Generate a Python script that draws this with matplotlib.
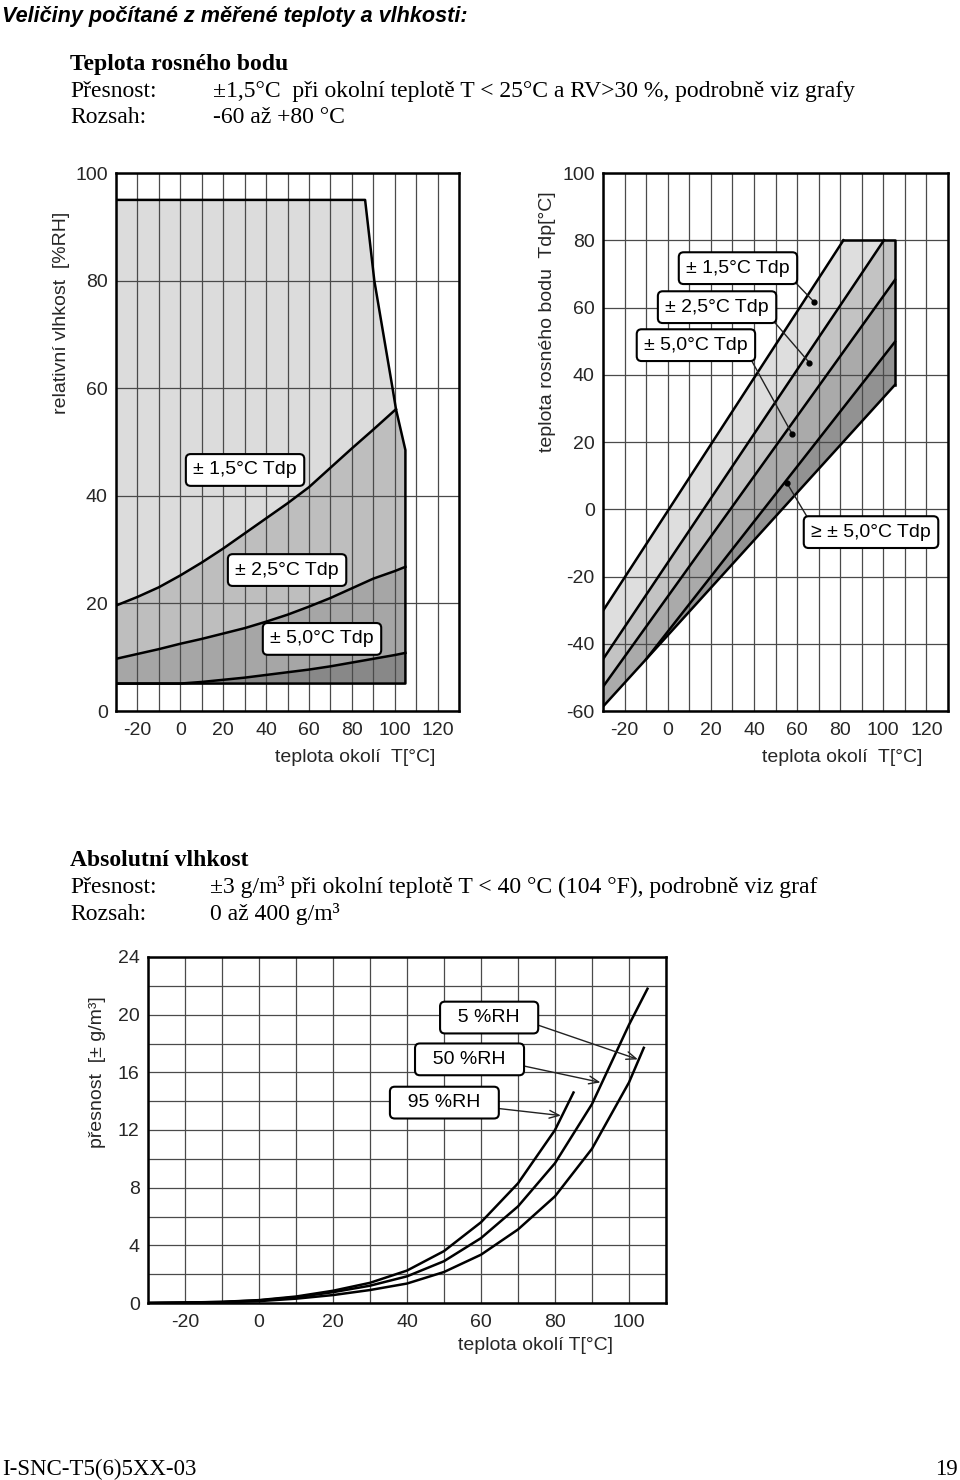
import numpy as np
import matplotlib
matplotlib.use("Agg")
import matplotlib.pyplot as plt

plt.rcParams['font.family'] = ['Liberation Sans', 'DejaVu Sans']

# --- graf 1: rel. vlhkost vs teplota okoli (oblasti presnosti Tdp)
rh_env_x = [-30, 86.2, 90.5, 99, 100.6, 105, 105]
rh_env_y = [95, 95, 80, 60, 56.1, 48.5, 5.1]
rh_floor = 5.1
rh15_x = [-30, -20, -10, 0, 10, 20, 30, 40, 50, 60, 70, 80, 90, 100.6]
rh15_y = [19.6, 21.2, 23.0, 25.2, 27.6, 30.2, 33.0, 35.8, 38.6, 41.6, 45.2, 48.8, 52.3, 56.1]
rh_x = [-30, -20, -10, 0, 10, 20, 30, 40, 50, 60, 70, 80, 90, 100, 105]
rh25_y = [9.7, 10.6, 11.5, 12.5, 13.4, 14.4, 15.4, 16.6, 17.9, 19.4, 21.0, 22.8, 24.6, 26.0, 26.8]
rh50_y = [5.1, 5.1, 5.1, 5.1, 5.4, 5.8, 6.2, 6.7, 7.2, 7.7, 8.3, 9.0, 9.7, 10.4, 10.8]

# --- graf 2: teplota rosneho bodu vs teplota okoli
dp_top = 80
dp_right = 105.4
dp_l1_x = [-30, 81.5]
dp_l1_y = [-30.2, 80]
dp_l2_x = [-30, 100.3]
dp_l2_y = [-44.6, 80]
dp_l3_x = [-30, 105.4]
dp_l3_y = [-52.8, 68.2]
dp_l4_x = [-10, 105.4]
dp_l4_y = [-44.6, 49.8]
dp_lb_x = [-30, -10, 105.4]
dp_lb_y = [-58.7, -44.6, 37.0]

# --- graf 3: absolutni vlhkost, presnost
ah95_x = [-30, -20, -10, 0, 10, 20, 30, 40, 50, 60, 70, 80, 85]
ah95_y = [0, 0.03, 0.08, 0.2, 0.45, 0.85, 1.4, 2.25, 3.6, 5.6, 8.3, 12.0, 14.6]
ah50_x = [-30, -20, -10, 0, 10, 20, 30, 40, 50, 60, 70, 80, 90, 100, 105]
ah50_y = [0, 0.03, 0.07, 0.18, 0.4, 0.75, 1.2, 1.85, 2.9, 4.5, 6.7, 9.7, 13.8, 19.3, 21.8]
ah5_x = [-30, -20, -10, 0, 10, 20, 30, 40, 50, 60, 70, 80, 90, 100, 104]
ah5_y = [0, 0.02, 0.05, 0.13, 0.3, 0.55, 0.9, 1.35, 2.15, 3.35, 5.1, 7.4, 10.7, 15.3, 17.7]

FS = 14  # pismo v grafech

fig = plt.figure(figsize=(9.6, 14.8), dpi=100)


def px_axes(l, t, r, b):
    return fig.add_axes([l / 960, 1 - b / 1480, (r - l) / 960, (b - t) / 1480])


def ftext(x, y, s, **kw):
    fig.text(x / 960, 1 - y / 1480, s, **kw)


def style(ax, xlim, xstep, ylim, ystep, ylab):
    ax.set_xlim(*xlim)
    ax.set_ylim(*ylim)
    xt = np.arange(xlim[0], xlim[1] + 1, 10)
    ax.set_xticks(xt)
    ax.set_xticklabels([str(v) if v % xstep == 0 else '' for v in xt])
    yt = np.arange(ylim[0], ylim[1] + 0.01, ystep)
    ax.set_yticks(yt)
    ax.set_yticklabels([str(int(v)) if v % ylab == 0 else '' for v in yt])
    ax.grid(True, color='#4a4a4a', lw=0.9)
    ax.tick_params(length=0, labelsize=FS, colors='#262626', pad=6)
    ax.tick_params(axis='x', pad=8)
    for s in ax.spines.values():
        s.set_linewidth(1.8)


box = dict(boxstyle='round,pad=0.38,rounding_size=0.25', fc='white', ec='black', lw=1.5)
LW = 1.8

# ---------- graf 1
ax1 = px_axes(116, 173, 459, 711)
style(ax1, (-30, 130), 20, (0, 100), 20, 20)
ax1.fill(rh_env_x + [-30], rh_env_y + [rh_floor], color='#dcdcdc', lw=0)
ax1.fill(rh15_x + rh_env_x[-2:] + [-30], rh15_y + rh_env_y[-2:] + [rh_floor],
         color='#bebebe', lw=0)
ax1.fill_between(rh_x, rh_floor, rh25_y, color='#a6a6a6', lw=0)
ax1.fill_between(rh_x, rh_floor, rh50_y, color='#888888', lw=0)
ax1.plot([-30] + rh_env_x + [-30], [rh_env_y[0]] + rh_env_y + [rh_floor], color='black', lw=LW)
ax1.plot(rh15_x, rh15_y, color='black', lw=LW)
ax1.plot(rh_x, rh25_y, color='black', lw=LW)
ax1.plot(rh_x, rh50_y, color='black', lw=LW)
ax1.text(30.2, 44.8, '± 1,5°C Tdp', fontsize=FS, ha='center', va='center', bbox=box, zorder=5)
ax1.text(49.8, 26.2, '± 2,5°C Tdp', fontsize=FS, ha='center', va='center', bbox=box, zorder=5)
ax1.text(66.1, 13.4, '± 5,0°C Tdp', fontsize=FS, ha='center', va='center', bbox=box, zorder=5)
ftext(62, 313, 'relativní vlhkost  [%RH]', fontsize=FS, rotation=90, ha='center', va='center', color='#262626')
ftext(355, 757, 'teplota okolí  T[°C]', fontsize=FS, ha='center', va='center', color='#262626')

# ---------- graf 2
ax2 = px_axes(603, 173, 948, 711)
style(ax2, (-30, 130), 20, (-60, 100), 20, 20)
ax2.fill(dp_l1_x + [dp_l2_x[1]] + dp_l2_x[::-1], dp_l1_y + [dp_top] + dp_l2_y[::-1],
         color='#dedede', lw=0)
ax2.fill(dp_l2_x + [dp_right] + dp_l3_x[::-1], dp_l2_y + [dp_top] + dp_l3_y[::-1],
         color='#c3c3c3', lw=0)
ax2.fill(dp_l3_x + dp_l4_x[::-1] + dp_lb_x[:2][::-1], dp_l3_y + dp_l4_y[::-1] + dp_lb_y[:2][::-1],
         color='#aaaaaa', lw=0)
ax2.fill(dp_l4_x + dp_lb_x[1:][::-1], dp_l4_y + dp_lb_y[1:][::-1], color='#929292', lw=0)
for lx, ly in [(dp_l1_x, dp_l1_y), (dp_l2_x, dp_l2_y), (dp_l3_x, dp_l3_y),
               (dp_l4_x, dp_l4_y), (dp_lb_x, dp_lb_y)]:
    ax2.plot(lx, ly, color='black', lw=LW)
ax2.plot([dp_l1_x[1], dp_right, dp_right], [dp_top, dp_top, dp_lb_y[-1]], color='black', lw=LW)

dp_labels = ['± 1,5°C Tdp', '± 2,5°C Tdp', '± 5,0°C Tdp', '≥ ± 5,0°C Tdp']
dp_label_pos = [(32.6, 71.7), (22.9, 60.1), (13.1, 48.8), (94.3, -6.8)]
dp_dots = [(67.8, 61.7), (65.7, 43.6), (57.7, 22.4), (55.4, 7.7)]
dp_rel = [(1, 0), (1, 0), (1, 0), (0, 1)]
for s, (tx, ty), (dx, dy), rp in zip(dp_labels, dp_label_pos, dp_dots, dp_rel):
    ax2.annotate(s, xy=(dx, dy), xytext=(tx, ty), fontsize=FS, ha='center', va='center',
                 bbox=box, zorder=5,
                 arrowprops=dict(arrowstyle='-', lw=1.0, color='#222222', relpos=rp,
                                 shrinkA=0, shrinkB=0))
    ax2.plot(dx, dy, 'o', color='black', ms=3.5, zorder=6)
ftext(548, 322, 'teplota rosného bodu  Tdp[°C]', fontsize=FS, rotation=90, ha='center', va='center', color='#262626')
ftext(842, 757, 'teplota okolí  T[°C]', fontsize=FS, ha='center', va='center', color='#262626')

# ---------- graf 3
ax3 = px_axes(148, 957, 666, 1303)
style(ax3, (-30, 110), 20, (0, 24), 2, 4)
ax3.plot(ah95_x, ah95_y, color='black', lw=LW)
ax3.plot(ah50_x, ah50_y, color='black', lw=LW)
ax3.plot(ah5_x, ah5_y, color='black', lw=LW)
ah_labels = ['5 %RH', '50 %RH', '95 %RH']
ah_label_pos = [(62.2, 19.8), (56.9, 16.9), (50.1, 13.9)]
ah_arrow_to = [(102.4, 16.9), (92.3, 15.3), (81.6, 13.0)]
for s, (tx, ty), (ex, ey) in zip(ah_labels, ah_label_pos, ah_arrow_to):
    ax3.annotate('  ' + s + '  ', xy=(ex, ey), xytext=(tx, ty), fontsize=FS, ha='center', va='center',
                 bbox=box, zorder=5,
                 arrowprops=dict(arrowstyle='->,head_length=0.5,head_width=0.2', lw=1.0,
                                 color='#222222', relpos=(1, 0.2), shrinkA=0, shrinkB=0))
ftext(97, 1072, 'přesnost  [± g/m³]', fontsize=FS, rotation=90, ha='center', va='center', color='#262626')
ftext(535, 1346, 'teplota okolí T[°C]', fontsize=FS, ha='center', va='center', color='#262626')

# ---------- texty
serif = ['Liberation Serif', 'DejaVu Serif']
ftext(2, 22, 'Veličiny počítané z měřené teploty a vlhkosti:', fontsize=15.6,
      fontweight='bold', fontstyle='italic', va='baseline')
ftext(70, 70, 'Teplota rosného bodu', fontsize=17, fontweight='bold', family=serif, va='baseline')
ftext(70, 97, 'Přesnost:', fontsize=17, family=serif, va='baseline')
ftext(213, 97, '±1,5°C  při okolní teplotě T < 25°C a RV>30 %, podrobně viz grafy',
      fontsize=17, family=serif, va='baseline')
ftext(70, 123, 'Rozsah:', fontsize=17, family=serif, va='baseline')
ftext(213, 123, '-60 až +80 °C', fontsize=17, family=serif, va='baseline')

ftext(70, 866, 'Absolutní vlhkost', fontsize=17, fontweight='bold', family=serif, va='baseline')
ftext(70, 893, 'Přesnost:', fontsize=17, family=serif, va='baseline')
ftext(210, 893, '±3 g/m³ při okolní teplotě T < 40 °C (104 °F), podrobně viz graf',
      fontsize=17, family=serif, va='baseline')
ftext(70, 920, 'Rozsah:', fontsize=17, family=serif, va='baseline')
ftext(210, 920, '0 až 400 g/m³', fontsize=17, family=serif, va='baseline')

ftext(2, 1475, 'I-SNC-T5(6)5XX-03', fontsize=16.5, family=serif, va='baseline')
ftext(958, 1475, '19', fontsize=16.5, family=serif, va='baseline', ha='right')

fig.savefig('out.png', dpi=100)
